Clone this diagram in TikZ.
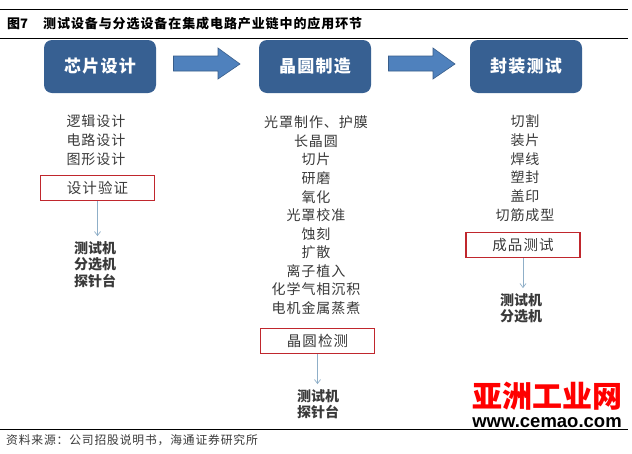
\documentclass[tikz,border=0pt]{standalone}
\usepackage{fontspec}
\setmainfont{Noto Sans CJK SC}
\newfontfamily\latinb{Liberation Sans}[BoldFont={Liberation Sans Bold}]
\newfontfamily\cjkwide[LetterSpace=7]{Noto Sans CJK SC}
\usetikzlibrary{shapes.arrows,arrows.meta}
\definecolor{stagefill}{HTML}{376092}
\definecolor{flowfill}{HTML}{4F81BD}
\definecolor{flowline}{HTML}{385D8A}
\definecolor{bodytext}{HTML}{3A3A3A}
\definecolor{redbox}{HTML}{C0272D}
\definecolor{linkline}{HTML}{8FAFC8}
\tikzset{
 x=1pt,y=-1pt,
 stagebox/.style={draw=none,fill=stagefill,rounded corners=8pt,minimum width=112pt,minimum height=53pt,text=white,font=\cjkwide\fontsize{17}{17}\selectfont\bfseries,inner sep=0pt},
 flowarrow/.style={draw=flowline,line width=.6pt,fill=flowfill},
 listitem/.style={font=\cjkwide\fontsize{14}{14}\selectfont,text=bodytext,inner sep=0pt,text height=12pt,text depth=1.4pt},
 checkbox/.style={draw=redbox,line width=1.8pt,fill=white,minimum width=114pt,minimum height=25pt,font=\cjkwide\fontsize{14.5}{14.5}\selectfont,text=bodytext,inner sep=0pt},
 toolitem/.style={font=\fontsize{14}{14}\selectfont\bfseries,text=bodytext,inner sep=0pt,text height=12pt,text depth=1.4pt},
 linkarrow/.style={draw=linkline,line width=.7pt,-{Straight Barb[length=4pt,width=6pt]},shorten >=5pt},
 rulel/.style={draw=black,line width=.8pt},
}
\begin{document}
\begin{tikzpicture}
\useasboundingbox (0,0) rectangle (632,453);
\fill[white] (0,0) rectangle (632,453);
\draw[rulel] (0,9) -- (628,9);
\draw[rulel] (0,38) -- (628,38);
\draw[rulel] (0,429) -- (628,429);
\node[anchor=west,inner sep=0pt,font=\fontsize{13}{13}\selectfont\bfseries] (figno) at (7,24) {图7};
\node[anchor=west,inner sep=0pt,font=\cjkwide\fontsize{13}{13}\selectfont\bfseries] (title) at (43,24) {测试设备与分选设备在集成电路产业链中的应用环节};
\node[anchor=west,inner sep=0pt,font=\cjkwide\fontsize{11.8}{11.8}\selectfont,text=bodytext] (source) at (6,440) {资料来源：公司招股说明书，海通证券研究所};

\node[stagebox] (chip) at (100,66.5) {芯片设计};
\node[stagebox] (wafer) at (315,66.5) {晶圆制造};
\node[stagebox] (pack) at (526,66.5) {封装测试};
\draw[flowarrow] (173.5,56) -- (218,56) -- (218,48) -- (240,64) -- (218,79) -- (218,71) -- (173.5,71) -- cycle;
\draw[flowarrow] (388.5,56) -- (433,56) -- (433,48) -- (455,64) -- (433,79) -- (433,71) -- (388.5,71) -- cycle;

\foreach \n/\y/\t in {a1/121/逻辑设计,a2/140/电路设计,a3/159/图形设计}
  \node[listitem] (\n) at (96,\y) {\t};
\node[checkbox] (averify) at (97.5,188) {设计验证};
\node[toolitem] (at1) at (95,248) {测试机};
\node[toolitem] (at2) at (95,264.5) {分选机};
\node[toolitem] (at3) at (95,281) {探针台};
\draw[linkarrow] (averify.south) -- (averify.south |- at1.north);

\foreach \n/\y/\t in {b1/122/光罩制作、护膜,b2/141/长晶圆,b3/159/切片,b4/178/研磨,b5/197/氧化,b6/215/光罩校准,b7/234/蚀刻,b8/252/扩散,b9/271/离子植入,b10/289/化学气相沉积,b11/308/电机金属蒸煮}
  \node[listitem] (\n) at (316,\y) {\t};
\node[checkbox] (bverify) at (317.5,341) {晶圆检测};
\node[toolitem] (bt1) at (318,396) {测试机};
\node[toolitem] (bt2) at (318,412) {探针台};
\draw[linkarrow] (bverify.south) -- (bverify.south |- bt1.north);

\foreach \n/\y/\t in {c1/121/切割,c2/140/装片,c3/159/焊线,c4/177/塑封,c5/196/盖印,c6/215/切筋成型}
  \node[listitem] (\n) at (525,\y) {\t};
\node[checkbox] (cverify) at (523,245) {成品测试};
\node[toolitem] (ct1) at (521,300) {测试机};
\node[toolitem] (ct2) at (521,316) {分选机};
\draw[linkarrow] (cverify.south) -- (cverify.south |- ct1.north);

\node[inner sep=0pt,text=red,font=\fontsize{30}{30}\selectfont\bfseries] (mark) at (547,396) {亚洲工业网};
\node[inner sep=0pt,font=\latinb\fontsize{18.5}{18.5}\selectfont\bfseries,text=black] (url) at (547,423) {www.cemao.com};
\end{tikzpicture}
\end{document}
